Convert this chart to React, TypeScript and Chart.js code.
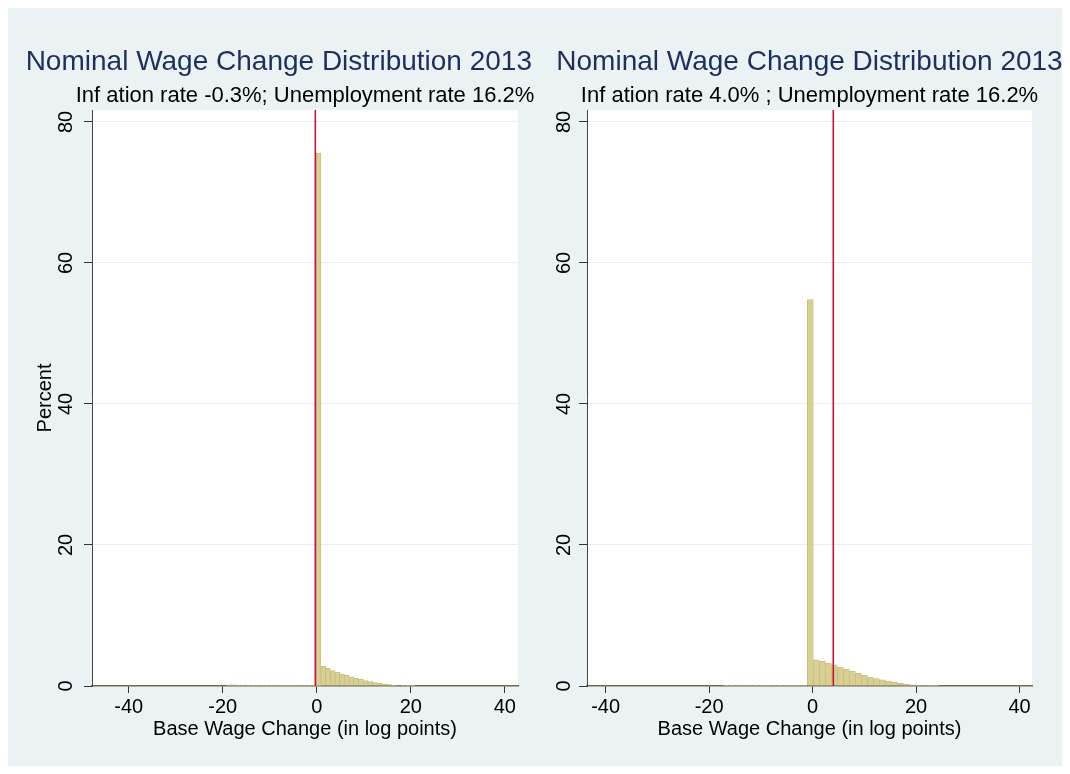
import React, { useEffect, useRef } from "react";
import { Chart, registerables } from "chart.js";

Chart.register(...registerables);

const FONT = "'Liberation Sans', Arial, Helvetica, sans-serif";
Chart.defaults.font.family = FONT;

// ---- text ----
const chartTitle = "Nominal Wage Change Distribution 2013";
const leftSubtitle = "Inf ation rate -0.3%; Unemployment rate 16.2%";
const rightSubtitle = "Inf ation rate 4.0% ; Unemployment rate 16.2%";
const xAxisLabel = "Base Wage Change (in log points)";
const yAxisLabel = "Percent";

// ---- tick labels ----
const xTicks = [-40, -20, 0, 20, 40];
const yTicks = [0, 20, 40, 60, 80];
const yMax = 81.7;

// ---- left panel (histogram bins: first bin centre, bin width, percent per bin) ----
const leftXRange = [-47.8, 42.8];
const leftInflation = -0.3;
const leftBinStart = -19.6;
const leftBinWidth = 1.0;
const leftPercent = [
  0.0, 0.15, 0.15, 0.12, 0.12, 0.03, 0.03, 0.03, 0.03, 0.03,
  0.03, 0.03, 0.03, 0.03, 0.03, 0.03, 0.03, 0.03, 0.05, 0.1,
  75.6, 2.8, 2.5, 2.2, 1.95, 1.7, 1.5, 1.3, 1.1, 0.93,
  0.77, 0.62, 0.48, 0.37, 0.27, 0.19, 0.12, 0.07, 0.04, 0.02,
  0.01,
];

// ---- right panel ----
const rightXRange = [-43.6, 42.4];
const rightInflation = 4.0;
const rightBinStart = -16.69;
const rightBinWidth = 1.16;
const rightPercent = [
  0.03, 0.12, 0.13, 0.13, 0.12, 0.12, 0.1, 0.03, 0.03, 0.03,
  0.03, 0.04, 0.05, 0.1, 54.8, 3.7, 3.5, 3.25, 3.0, 2.7,
  2.4, 2.08, 1.8, 1.5, 1.25, 1.05, 0.87, 0.7, 0.52, 0.37,
  0.27, 0.18, 0.11, 0.06, 0.03, 0.02,
];

const panelPlugin = {
  id: "panel",
  beforeDraw(chart: any, _args: any, opts: any) {
    const { ctx, chartArea: a, width } = chart;
    ctx.save();
    ctx.fillStyle = "#ffffff";
    ctx.fillRect(a.left, a.top, a.right - a.left, a.bottom - a.top);
    const cx = (a.left + a.right) / 2;
    ctx.textAlign = "center";
    ctx.textBaseline = "middle";
    ctx.font = `28px ${FONT}`;
    const tw = ctx.measureText(opts.title).width;
    const tx = Math.min(cx, width - 5 - tw / 2);
    ctx.fillStyle = "#1e2f5e";
    ctx.fillText(opts.title, tx, 54);
    ctx.font = `22px ${FONT}`;
    ctx.fillStyle = "#000000";
    ctx.fillText(opts.subtitle, cx, 88);
    ctx.restore();
  },
};

type HistProps = {
  width: number;
  height: number;
  areaLeft: number;
  padRight: number;
  labelPad: number;
  binStart: number;
  binWidth: number;
  values: number[];
  inflation: number;
  xRange: number[];
  subtitle: string;
  showYTitle: boolean;
};

function Histogram(p: HistProps) {
  const ref = useRef<HTMLCanvasElement>(null);
  useEffect(() => {
    const bars = p.values.map((v, i) => ({ x: p.binStart + i * p.binWidth, y: v }));
    const chart = new Chart(ref.current as HTMLCanvasElement, {
      type: "bar",
      data: {
        datasets: [
          {
            type: "line",
            data: [
              { x: p.inflation, y: 0 },
              { x: p.inflation, y: yMax },
            ],
            borderColor: "#c4123c",
            borderWidth: 1.6,
            pointRadius: 0,
            order: 0,
          } as any,
          {
            type: "bar",
            data: bars,
            backgroundColor: "#d8cf92",
            borderColor: "#c4b877",
            borderWidth: 0.7,
            barPercentage: 1,
            categoryPercentage: 1,
            grouped: false,
            order: 1,
          } as any,
        ],
      },
      options: {
        responsive: false,
        animation: false,
        events: [],
        layout: { padding: { top: 102, left: 0, right: p.padRight, bottom: 0 } },
        plugins: {
          legend: { display: false },
          tooltip: { enabled: false },
          panel: { title: chartTitle, subtitle: p.subtitle },
        } as any,
        scales: {
          x: {
            type: "linear",
            bounds: "data",
            offset: false,
            min: p.xRange[0],
            max: p.xRange[1],
            afterBuildTicks: (s: any) => {
              s.ticks = xTicks.map((v) => ({ value: v }));
            },
            afterFit: (s: any) => {
              s.height = 80;
            },
            grid: {
              offset: false,
              drawOnChartArea: false,
              drawTicks: true,
              tickLength: 7,
              tickColor: "#333333",
              tickWidth: 1,
            },
            border: { display: true, color: "#6e6a4c", width: 1.5 },
            ticks: {
              color: "#000000",
              font: { size: 20 },
              padding: 2,
              maxRotation: 0,
              autoSkip: false,
            },
            title: {
              display: true,
              text: xAxisLabel,
              color: "#000000",
              font: { size: 20 },
              padding: { top: 0, bottom: 25 },
            },
          },
          y: {
            type: "linear",
            bounds: "data",
            min: 0,
            max: yMax,
            afterBuildTicks: (s: any) => {
              s.ticks = yTicks.map((v) => ({ value: v }));
            },
            afterFit: (s: any) => {
              s.width = p.areaLeft;
            },
            grid: {
              color: (c: any) => (c.tick && c.tick.value === 0 ? "rgba(0,0,0,0)" : "#e6eeef"),
              lineWidth: 1,
              tickLength: 8,
              tickColor: "#333333",
              tickWidth: 1,
            },
            border: { display: true, color: "#444444", width: 1 },
            ticks: {
              color: "#000000",
              font: { size: 20 },
              minRotation: 90,
              maxRotation: 90,
              crossAlign: "center",
              padding: p.labelPad,
              autoSkip: false,
            },
            title: {
              display: p.showYTitle,
              text: yAxisLabel,
              color: "#000000",
              font: { size: 20 },
              padding: { top: 25, bottom: 0 },
            },
          },
        },
      } as any,
      plugins: [panelPlugin],
    });
    return () => chart.destroy();
  }, []);
  return (
    <canvas
      ref={ref}
      width={p.width}
      height={p.height}
      style={{ display: "block", width: p.width, height: p.height }}
    />
  );
}

export default function App() {
  useEffect(() => {
    document.documentElement.style.overflow = "hidden";
  }, []);
  return (
    <div style={{ width: 1062, height: 758, background: "#eaf2f3", display: "flex" }}>
      <Histogram
        width={529}
        height={758}
        areaLeft={84}
        padRight={19}
        labelPad={6}
        binStart={leftBinStart}
        binWidth={leftBinWidth}
        values={leftPercent}
        inflation={leftInflation}
        xRange={leftXRange}
        subtitle={leftSubtitle}
        showYTitle={true}
      />
      <Histogram
        width={533}
        height={758}
        areaLeft={50}
        padRight={38}
        labelPad={3}
        binStart={rightBinStart}
        binWidth={rightBinWidth}
        values={rightPercent}
        inflation={rightInflation}
        xRange={rightXRange}
        subtitle={rightSubtitle}
        showYTitle={false}
      />
    </div>
  );
}
